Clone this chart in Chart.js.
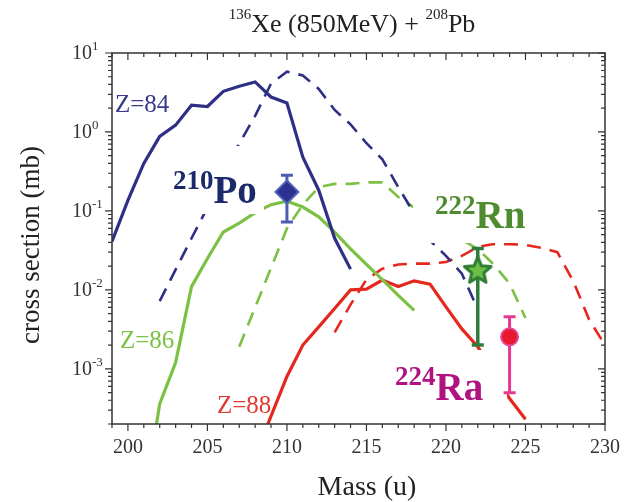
<!DOCTYPE html>
<html>
<head>
<meta charset="utf-8">
<script src="https://cdn.jsdelivr.net/npm/chart.js@4.4.1/dist/chart.umd.min.js"></script>
<style>
  html, body { margin: 0; padding: 0; background: #fff; }
</style>
</head>
<body>
<canvas id="chart" width="632" height="502"></canvas>
<script>
/* ── Data ───────────────────────────────────────────────────── */

// Z=84 (solid = calc. A, dashed = calc. B)
const Z84_MASS   = [199, 200, 201, 202, 203, 204, 205, 206, 207, 208, 209, 210, 211, 212, 213, 214];
const Z84_SOLID  = [0.041, 0.136, 0.40, 0.88, 1.22, 2.18, 2.1, 3.27, 3.8, 4.3, 2.77, 2.33, 0.48, 0.183, 0.045, 0.0183];
const Z84D_MASS  = [202, 203, 204, 205, 206, 207, 208, 209, 210, 211, 212, 213, 214, 215, 216, 217, 218, 219, 220, 221, 221.8];
const Z84_DASH   = [0.0072, 0.018, 0.045, 0.11, 0.29, 0.71, 1.6, 4.1, 5.8, 5.2, 3.5, 1.9, 1.25, 0.72, 0.45, 0.2, 0.093, 0.042, 0.027, 0.016, 0.007];

// Z=86
const Z86_MASS   = [201.8, 202, 203, 204, 205, 206, 207, 208, 209, 210, 211, 212, 213, 214, 215, 216, 217, 218];
const Z86_SOLID  = [0.0002, 0.00036, 0.0012, 0.011, 0.025, 0.054, 0.07, 0.095, 0.12, 0.133, 0.112, 0.084, 0.054, 0.033, 0.021, 0.0135, 0.0085, 0.0055];
const Z86D_MASS  = [207, 208, 209, 210, 211, 212, 213, 214, 215, 216, 217, 218, 219, 220, 221, 222, 223, 224, 225];
const Z86_DASH   = [0.0019, 0.006, 0.019, 0.06, 0.12, 0.2, 0.22, 0.22, 0.23, 0.23, 0.15, 0.11, 0.075, 0.055, 0.043, 0.033, 0.021, 0.012, 0.0044];

// Z=88
const Z88_MASS   = [208.8, 210, 211, 212, 213, 214, 215, 216, 217, 218, 219, 220, 221, 222, 223, 224, 225];
const Z88_SOLID  = [0.0002, 0.0008, 0.002, 0.0034, 0.0058, 0.01, 0.0102, 0.0133, 0.011, 0.013, 0.0118, 0.0061, 0.0032, 0.0019, 0.0009, 0.00042, 0.00023];
const Z88D_MASS  = [213, 214, 215, 216, 217, 218, 219, 220, 221, 222, 223, 224, 225, 226, 227, 228, 229, 230];
const Z88_DASH   = [0.0029, 0.0065, 0.0135, 0.0185, 0.021, 0.0215, 0.0215, 0.0225, 0.027, 0.035, 0.038, 0.038, 0.037, 0.034, 0.030, 0.013, 0.0042, 0.002];

// measured isotopes
const EXP_A    = ['210', '222', '224'];
const EXP_EL   = ['Po', 'Rn', 'Ra'];
const EXP_MASS = [210, 222, 224];
const EXP_VAL  = [0.174, 0.0181, 0.00254];
const EXP_LO   = [0.0726, 0.0020, 0.000497];
const EXP_HI   = [0.283, 0.0334, 0.00455];

// axis ticks
const X_TICKS = [200, 205, 210, 215, 220, 225, 230];
const Y_TICKS = [1e-3, 1e-2, 1e-1, 1, 10];
const Y_EXP   = ['-3', '-2', '-1', '0', '1'];

/* ── Styling ─────────────────────────────────────────────────── */
const SERIF = '"Liberation Serif", "Times New Roman", serif';
const NAVY  = '#2e2f85';
const GREEN = '#7cc144';
const RED   = '#e5281e';

const pts = (m, v) => m.map((x, i) => ({ x, y: v[i] }));

function curve(m, v, color, dashed) {
  return {
    data: pts(m, v),
    showLine: true,
    borderColor: color,
    borderWidth: dashed ? 2.6 : 3.2,
    borderDash: dashed ? [14, 9] : [],
    pointRadius: 0,
    pointHoverRadius: 0,
    tension: 0,
    fill: false,
  };
}

/* five-point star used as the Rn marker */
function starImage(r, fill, stroke, lw) {
  const c = document.createElement('canvas');
  const s = Math.ceil(2 * r + lw + 4);
  c.width = c.height = s;
  const g = c.getContext('2d');
  g.translate(s / 2, s / 2 + r * 0.1);
  g.beginPath();
  for (let i = 0; i < 10; i++) {
    const rr = i % 2 ? r * 0.45 : r;
    const a = -Math.PI / 2 + i * Math.PI / 5;
    g.lineTo(rr * Math.cos(a), rr * Math.sin(a));
  }
  g.closePath();
  g.fillStyle = fill;
  g.fill();
  g.lineWidth = lw;
  g.lineJoin = 'round';
  g.strokeStyle = stroke;
  g.stroke();
  return c;
}

function marker(i, style) {
  return Object.assign({ data: [{ x: EXP_MASS[i], y: EXP_VAL[i] }], showLine: false }, style);
}

/* label with a superscript mass number, e.g. ²¹⁰Po */
function supText(ctx, x, base, sup, main, size, supSize, rise, color, bold) {
  const w = bold ? 'bold ' : '';
  ctx.fillStyle = color;
  ctx.textAlign = 'left';
  ctx.textBaseline = 'alphabetic';
  ctx.font = `${w}${supSize}px ${SERIF}`;
  ctx.fillText(sup, x, base - rise);
  const sw = ctx.measureText(sup).width;
  ctx.font = `${w}${size}px ${SERIF}`;
  ctx.fillText(main, x + sw, base);
  return x + sw + ctx.measureText(main).width;
}

const ERR_COLOR = ['#4a5db0', '#2e7d3a', '#e23b8e'];
const ERR_WIDTH = [3, 3.5, 3];
const LABEL_COLOR = ['#1b2a6b', '#4f8b2f', '#b0127f'];
const LABEL_POS = [[173, 203, 14], [435, 228, 14], [395, 400, 15]];
const LABEL_BOX = [[166, 146, 264, 214], [413, 186, 540, 243], [388, 350, 507, 418]];

const decor = {
  id: 'decor',
  // runs once the last curve is drawn, before the markers
  afterDatasetDraw(chart, args) {
    if (args.index !== 3) return;
    const ctx = chart.ctx;
    const xs = chart.scales.x, ys = chart.scales.y;
    ctx.save();
    // isotope labels on white patches
    LABEL_BOX.forEach((b, i) => {
      ctx.fillStyle = '#fff';
      ctx.fillRect(b[0], b[1], b[2] - b[0], b[3] - b[1]);
      const p = LABEL_POS[i];
      supText(ctx, p[0], p[1], EXP_A[i], EXP_EL[i], 39, 27, p[2], LABEL_COLOR[i], true);
    });
    // error bars
    EXP_MASS.forEach((m, i) => {
      const px = xs.getPixelForValue(m);
      const y1 = ys.getPixelForValue(EXP_HI[i]);
      const y2 = ys.getPixelForValue(EXP_LO[i]);
      ctx.strokeStyle = ERR_COLOR[i];
      ctx.lineWidth = ERR_WIDTH[i];
      ctx.beginPath();
      ctx.moveTo(px, y1); ctx.lineTo(px, y2);
      ctx.moveTo(px - 6, y1); ctx.lineTo(px + 6, y1);
      ctx.moveTo(px - 6, y2); ctx.lineTo(px + 6, y2);
      ctx.stroke();
    });
    ctx.restore();
  },
  afterDraw(chart) {
    const ctx = chart.ctx;
    const { left, right, top, bottom } = chart.chartArea;
    const xs = chart.scales.x, ys = chart.scales.y;
    ctx.save();

    // frame + ticks
    ctx.strokeStyle = '#333';
    ctx.lineWidth = 1.5;
    ctx.strokeRect(left, top, right - left, bottom - top);
    ctx.lineWidth = 1.2;
    ctx.beginPath();
    for (let m = xs.min; m <= xs.max; m++) {
      const px = xs.getPixelForValue(m);
      const len = m % 5 === 0 ? 7 : 4;
      ctx.moveTo(px, bottom); ctx.lineTo(px, bottom + len);
      ctx.moveTo(px, top);    ctx.lineTo(px, top + len);
    }
    for (let n = -4; n <= 1; n++) {
      for (let k = 1; k <= 9; k++) {
        const v = k * Math.pow(10, n);
        if (v < ys.min * 0.999 || v > ys.max * 1.001) continue;
        const py = ys.getPixelForValue(v);
        const len = k === 1 ? 7 : 4;
        ctx.moveTo(left - len, py); ctx.lineTo(left, py);
        ctx.moveTo(right - len, py); ctx.lineTo(right, py);
      }
    }
    ctx.stroke();

    // y tick labels 10^n
    ctx.fillStyle = '#333';
    Y_TICKS.forEach((v, i) => {
      const py = ys.getPixelForValue(v);
      ctx.textAlign = 'left';
      ctx.font = `20px ${SERIF}`;
      ctx.textBaseline = 'middle';
      ctx.fillText('10', 72, py + 1);
      ctx.font = `13px ${SERIF}`;
      ctx.textBaseline = 'alphabetic';
      ctx.fillText(Y_EXP[i], 92, py - 3);
    });

    // axis titles
    ctx.fillStyle = '#222';
    ctx.font = `28px ${SERIF}`;
    ctx.textAlign = 'center';
    ctx.textBaseline = 'alphabetic';
    ctx.fillText('Mass (u)', 367, 495);
    ctx.save();
    ctx.translate(32, 245);
    ctx.rotate(-Math.PI / 2);
    ctx.font = `27px ${SERIF}`;
    ctx.textBaseline = 'middle';
    ctx.fillText('cross section (mb)', 0, 0);
    ctx.restore();

    // curve labels
    ctx.textAlign = 'left';
    ctx.textBaseline = 'alphabetic';
    ctx.font = `25px ${SERIF}`;
    ctx.fillStyle = '#3a3a8c'; ctx.fillText('Z=84', 115, 112);
    ctx.fillStyle = GREEN;     ctx.fillText('Z=86', 120, 348);
    ctx.fillStyle = '#e03a30'; ctx.fillText('Z=88', 217, 413);

    // title ¹³⁶Xe (850MeV) + ²⁰⁸Pb, centred at x = 352
    ctx.font = `26px ${SERIF}`;
    const w1 = ctx.measureText('Xe (850MeV) + ').width + ctx.measureText('Pb').width;
    ctx.font = `15px ${SERIF}`;
    const w2 = ctx.measureText('136').width + ctx.measureText('208').width;
    let x = 352 - (w1 + w2) / 2;
    x = supText(ctx, x, 32, '136', 'Xe (850MeV) + ', 26, 15, 13.5, '#222', false);
    supText(ctx, x, 32, '208', 'Pb', 26, 15, 13.5, '#222', false);
    ctx.restore();
  },
};

/* ── Chart ───────────────────────────────────────────────────── */
new Chart(document.getElementById('chart'), {
  type: 'scatter',
  data: {
    datasets: [
      marker(0, { pointStyle: 'rectRot', pointRadius: 11.5, backgroundColor: '#2e3192', borderColor: '#5068b8', borderWidth: 2 }),
      marker(1, { pointStyle: starImage(14, '#6cbf45', '#2e7d32', 3) }),
      marker(2, { pointStyle: 'circle', pointRadius: 8.5, backgroundColor: '#e8192c', borderColor: '#e6479a', borderWidth: 2 }),
      curve(Z84_MASS, Z84_SOLID, NAVY, false),
      curve(Z84D_MASS, Z84_DASH, NAVY, true),
      curve(Z86_MASS, Z86_SOLID, GREEN, false),
      curve(Z86D_MASS, Z86_DASH, GREEN, true),
      curve(Z88_MASS, Z88_SOLID, RED, false),
      curve(Z88D_MASS, Z88_DASH, RED, true),
    ],
  },
  options: {
    responsive: false,
    animation: false,
    layout: { padding: { top: 53, right: 17, left: 0, bottom: 0 } },
    plugins: { legend: { display: false }, tooltip: { enabled: false }, title: { display: false } },
    scales: {
      x: {
        type: 'linear',
        min: 199,
        max: 230,
        afterBuildTicks: s => { s.ticks = X_TICKS.map(v => ({ value: v })); },
        afterFit: s => { s.height = 78; },
        grid: { display: false, drawTicks: false },
        border: { display: false },
        ticks: { padding: 12, color: '#333', font: { family: SERIF, size: 20 }, maxRotation: 0, autoSkip: false },
      },
      y: {
        type: 'logarithmic',
        min: 2e-4,
        max: 10,
        afterFit: s => { s.width = 112; },
        grid: { display: false, drawTicks: false },
        border: { display: false },
        ticks: { display: false },
      },
    },
  },
  plugins: [decor],
});
</script>
</body>
</html>
